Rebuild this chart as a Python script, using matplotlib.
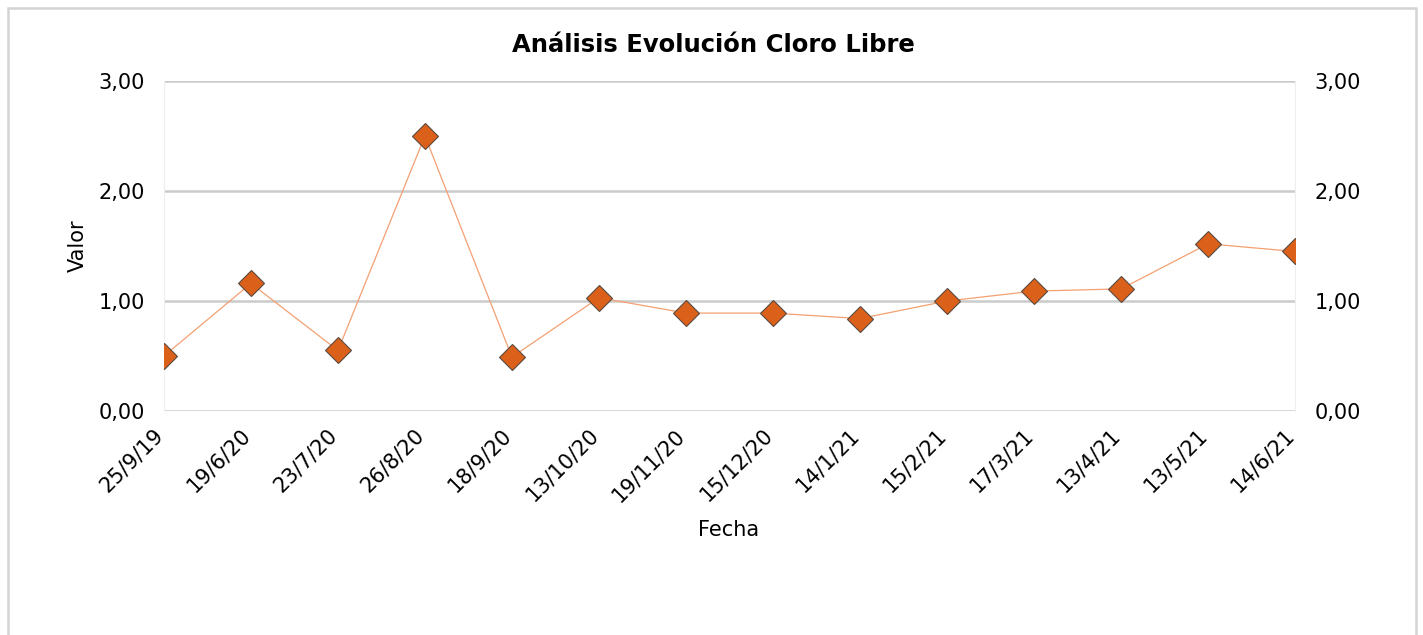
import matplotlib.pyplot as plt
from matplotlib.patches import Rectangle
from matplotlib.ticker import FuncFormatter
from matplotlib.transforms import ScaledTranslation

# Datos
fechas = ['25/9/19', '19/6/20', '23/7/20', '26/8/20', '18/9/20', '13/10/20', '19/11/20',
          '15/12/20', '14/1/21', '15/2/21', '17/3/21', '13/4/21', '13/5/21', '14/6/21']
valores = [0.50, 1.16, 0.55, 2.50, 0.49, 1.03, 0.89, 0.89, 0.84, 1.00, 1.09, 1.11, 1.52, 1.45]
ticks_y = [0, 1, 2, 3]

plt.rcParams['font.family'] = ['DejaVu Sans']

fig = plt.figure(figsize=(14.23, 6.35), dpi=100)
ax = fig.add_axes([0.1152, 0.3528, 0.7949, 0.5196])

# Marco exterior gris
fig.patches.append(Rectangle((8 / 1423, -0.1), 1408 / 1423, 1.1 - 8 / 635,
                             transform=fig.transFigure, fill=False,
                             edgecolor='#d4d4d4', linewidth=1.8))

x = list(range(len(fechas)))
ax.plot(x, valores, color='#f4a072', linewidth=0.9, zorder=3)
ax.plot(x, valores, linestyle='none', marker='D', markersize=13.5,
        markerfacecolor='#db611b', markeredgecolor='#5a4a40', markeredgewidth=0.8, zorder=4)

ax.set_xlim(0, len(fechas) - 1)
ax.set_ylim(0, 3)
ax.set_yticks(ticks_y)
fmt = FuncFormatter(lambda v, p: f'{v:.2f}'.replace('.', ','))
ax.yaxis.set_major_formatter(fmt)
ax.grid(axis='y', color='#cbcbcb', linewidth=1.8)
ax.set_axisbelow(True)

# Etiquetas de fecha giradas, algo desplazadas a la izquierda como en el original
ax.set_xticks(x)
ax.set_xticklabels([])
desplaz = ScaledTranslation(-0.11, -0.14, fig.dpi_scale_trans)
for i, f in zip(x, fechas):
    ax.text(i, 0, f, transform=ax.get_xaxis_transform() + desplaz, rotation=45,
            ha='right', va='top', rotation_mode='anchor', fontsize=15)

for lado in ['top', 'bottom']:
    ax.spines[lado].set_visible(False)
for lado in ['left', 'right']:
    ax.spines[lado].set_color('#eeeeee')
    ax.spines[lado].set_linewidth(0.8)

ax.tick_params(axis='both', length=0, labelsize=15)
ax.tick_params(axis='y', pad=13.5)

# Eje derecho con las mismas marcas
ax2 = ax.twinx()
ax2.set_ylim(0, 3)
ax2.set_yticks(ticks_y)
ax2.yaxis.set_major_formatter(fmt)
ax2.tick_params(axis='y', length=0, labelsize=15, pad=14)
for s in ax2.spines.values():
    s.set_visible(False)

fig.text(729 / 1423, 1 - 530 / 635, 'Fecha', ha='center', va='center', fontsize=15)
ax.set_ylabel('Valor', fontsize=15, labelpad=8)
fig.text(0.501, 0.929, 'Análisis Evolución Cloro Libre', ha='center', va='center',
         fontsize=17.5, fontweight='bold')

plt.savefig('out.png', dpi=100)
